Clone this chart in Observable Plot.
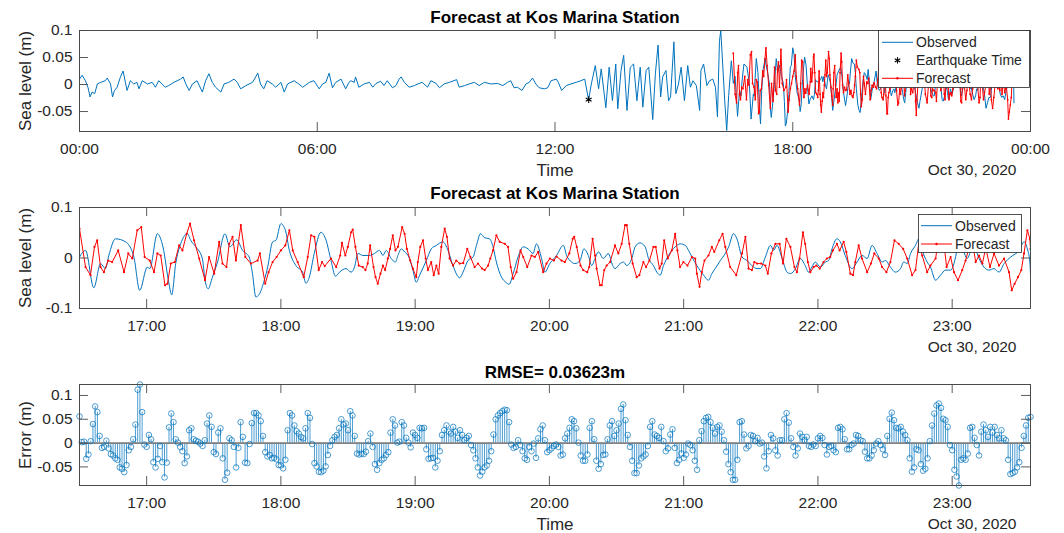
<!DOCTYPE html>
<html><head><meta charset="utf-8">
<script src="https://cdn.jsdelivr.net/npm/d3@7"></script>
<script src="https://cdn.jsdelivr.net/npm/@observablehq/plot@0.6"></script>
<style>
body{margin:0;background:#fff;}
#chart{position:relative;width:1064px;height:533px;overflow:hidden;background:#fff;font-family:"Liberation Sans",Arial,Helvetica,sans-serif;}
#chart svg{position:absolute;left:0;}
</style></head><body><div id="chart"></div>
<script>
// ---------------- DATA ----------------
const titleTop = "Forecast at Kos Marina Station";
const titleMid = "Forecast at Kos Marina Station";
const rmseValue = 0.03623;
const dateLabel = "Oct 30, 2020";
const legendTop = ["Observed", "Earthquake Time", "Forecast"];
const legendMid = ["Observed", "Forecast"];
const overviewTickHours = [0, 6, 12, 18, 24];
const detailTickHours = [17, 18, 19, 20, 21, 22, 23];
const seaTicksTop = [-0.05, 0, 0.05, 0.1];
const seaTicksMid = [-0.1, 0, 0.1];
const errTicks = [-0.05, 0, 0.05, 0.1];
const forecastStartMin = 990;   // 16:30, minutes after midnight Oct 30
const quakeMin = 771;           // 12:51
const quakeMm = -28;

// observed sea level before 16:30 (minutes after 00:00, mm)
const earlyMin = [0,4,9,13,16,19,23,27,32,39,42,47,50,53,57,62,66,70,72,77,82,87,90,95,103,110,115,120,125,130,135,143,153,157,161,166,171,178,186,191,196,201,206,214,219,226,234,239,244,252,262,270,274,279,284,292,297,305,310,315,325,332,338,348,355,363,368,373,378,383,388,396,403,408,
411,416,418,423,431,439,444,449,456,461,466,474,479,484,487,492,499,507,514,519,527,532,540,545,552,560,571,575,583,590,598,605,613,623,633,641,648,653,658,663,670,676,681,686,691,696,704,709,714,722,725,730,737,744,752,759,765,770,771,775,781,786,790,797,802,807,812,815,820,824,829,834,839,844,849,853,858,862,868,872,876,880,883,888,892,895,900,903,907,911,916,921,925,929,934,939,
941,945,950,954,959,963,966,969,971,973,977,980,983,987];
const earlyMm = [10,17,7,-6,-23,-14,-17,1,4,7,12,1,-23,-11,-5,14,25,1,-11,7,1,4,-8,7,1,4,-5,7,1,-5,-2,4,10,14,1,-11,1,7,-14,7,20,4,-5,-14,1,4,10,4,-8,-2,4,21,1,-8,7,1,-5,4,-14,1,7,1,-5,4,7,-8,1,4,21,-6,4,10,-8,4,
7,4,14,-5,1,4,-5,2,6,-2,7,-6,-2,10,14,4,-5,-2,2,4,-5,7,2,-6,1,4,9,-5,-2,1,4,-2,4,1,2,-2,4,7,-6,-5,-11,1,4,12,1,-6,-8,-6,7,10,4,-11,-2,1,4,7,10,-23,-28,1,35,-8,29,-43,32,-30,38,-45,26,54,-48,32,38,-30,32,-42,26,32,-65,20,73,-23,14,26,-30,-23,79,-17,1,32,-30,35,-5,7,-2,-48,
26,38,-2,7,10,-5,-60,80,100,57,-30,-85,-20,44];

// observed sea level after 16:30 (minutes after 16:30, mm)
const obsMin = [0,2.7,6.4,9.4,11.6,13.1,16.1,20.6,24.3,26.9,30.3,31.4,34.8,37.3,40,41.2,43,45.2,48.2,49.7,52,54.9,56.1,57.5,59.4,61.7,65,67.2,70.2,72.9,75.8,77.3,78.8,80.3,82.6,84.1,86.3,87.8,90,92,93.8,96.7,99.7,101.2,102.7,104.9,107.9,
110.2,112.4,114.4,116.2,119.1,121.4,122.9,124.4,126.6,129.6,131.8,134.1,135.6,137.1,139.3,141.2,142.3,143.8,145.3,147.2,149,150.5,152,155,157.2,159.5,162.4,164.7,166.9,169.9,171.4,173.6,175.9,177.4,179.2,181.1,183.3,184.8,186.3,188.6,190.5,192,193.8,196,198.3,200.5,202.7,204.2,206.5,208,210.2,
213.2,216.2,217.7,219.9,221.4,223.7,225.4,227.4,228.9,230.4,231.9,234.1,236.3,238.3,239.3,241.6,243.1,244.6,246.8,248.3,250.5,252.8,254.3,256.5,258,259.5,261,263.2,266.2,268.4,270.7,272.2,273.7,275.9,278.9,281.1,282.6,284.1,286.4,288.6,290.1,292.3,293.8,296.1,298.3,300.5,302.8,304.3,306.5,308.8,310.2,311.7,314,316.2,317.7,320,
322.1,324.3,325.8,327.3,328.8,331.1,333.3,334.8,336.3,338.5,340,342.2,345.2,347.5,349.7,352,354.2,356.4,358.7,360.2,362.4,364.6,366.9,368.4,369.9,371.4,373.6,375.1,376.6,378.8,380.3,382.6,384.8,387,389.3,390.8,392.3,393.3,394.5,396.7,398.2,399.7,402,404.2,406.4,408.7,410.9,413.2,416.2,419.9,422.1,423.6,424.7,425];
const obsMm = [2,15,-59,-11,-21,5,38,32,2,-64,-18,-21,48,22,-51,-73,-11,28,48,35,22,-1,-44,-61,-38,-8,48,22,36,15,2,-31,-77,-72,-44,-18,32,35,68,55,15,-15,-28,-50,-38,9,51,
35,-5,-36,-28,-21,-28,-18,9,5,5,9,15,5,15,-1,-8,5,18,12,2,-24,-48,-34,-5,18,25,32,15,-15,-39,-28,-5,2,25,48,40,38,22,-8,-38,-48,-52,-31,2,22,18,9,28,-1,-28,-11,
5,25,5,-8,-11,-5,18,5,-15,-1,12,-1,9,-15,-21,-11,-8,-15,-1,22,30,22,-1,-15,-28,-34,-15,5,22,28,25,15,2,-15,-34,-44,-31,-21,-5,9,22,48,38,2,-5,-15,-21,-21,2,25,15,25,-1,-28,-31,-21,
-1,-15,-28,-18,-8,-18,-8,-5,18,38,32,5,-21,-8,5,-1,25,9,-8,-5,-18,-28,-21,-8,-11,9,25,38,15,-8,-18,-44,-34,-24,-24,-11,20,45,25,-1,12,22,-1,-18,-24,-21,-28,-11,2,15,32,18,-8,-34];

// forecast (minutes after 16:30, mm)
const fcMin = [0,2.7,4.9,6.7,7.9,9.4,10.9,12.8,14.6,17.3,19.9,21.8,23.6,25.8,27.6,29.1,31.4,33.3,34.8,36.3,38.2,39.3,40.8,42.6,44.5,46,47.9,49.4,51.2,53.5,56.1,57.9,60.2,62.4,63.9,65.7,66.9,68.4,69.9,72.1,74.1,76.6,79.6,80.6,83,84.5,86.3,88.1,90,92,93.8,95.3,97.5,100.2,102,103.5,105,106.9,108.4,
109.6,112.4,114.7,116.5,117.3,118.8,119.9,121.4,122.1,123.3,124.8,126.6,127.8,128.8,129.9,131.4,132.3,133.3,134.5,135.6,136.6,137.8,138.8,140,141.2,142.3,144.2,145.3,146.3,147.8,149,150.5,151.2,152.3,153.5,154.7,155.7,157.2,158.3,159.5,160.5,161.7,163.2,164.2,165.4,166.9,168.4,169.9,171.5,173.3,174.7,176.6,178.1,179.9,181.1,182.6,183.6,184.8,186.3,187.8,190.1,191.5,192.7,193.8,195.3,197.1,198.3,200.1,202,203.5,205,207.2,208.7,210.2,212,
213.2,215.4,216.9,218.9,220.4,221.1,222.2,223.9,225.1,226.9,227.8,229.3,230.4,231.1,232.6,233.4,234.5,235.6,237.1,239.3,240.8,242.3,243.8,244.6,245.7,247.2,249,250.2,252,253.2,254.7,256.5,257.5,259.2,260.2,261.3,262.9,264.7,266.2,267.2,268.4,269.9,271.7,273.7,275.2,275.9,277.1,278.1,279.3,281.1,282.6,283.7,285.9,287.4,288.6,290.8,293.5,296.1,297.6,299,300.5,301.6,302.8,304.6,306.5,307.6,309.2,311,312.9,314.4,315.9,317.7,319.5,
320.6,321.8,323.3,324.3,325.5,326.6,328.1,329.3,330.8,332.5,334,335.5,336.7,338.5,339.7,341.5,342.7,344.5,345.7,346.7,348.2,349.7,352,353.7,355.2,357.2,358.7,360.6,362.4,364.2,366.1,368.1,369.9,372.1,373.6,375.1,376.6,378.8,380.3,382.6,383.8,385,386.3,387.5,389.3,390.8,392.6,394.5,396,397.5,398.8,400.5,402,403.5,405,406.9,408.7,410.9,413.2,415.4,416.6,417.9,419.4,420.9,422.1,423.6,424.7,425];
const fcMm = [58,-18,-34,22,35,-18,-28,-5,-8,15,-28,9,-1,55,61,2,-5,-28,9,5,-54,-51,-11,-8,25,15,48,68,35,-1,-44,2,-31,32,-11,-18,28,42,-5,65,2,-11,-5,9,-51,-28,-8,2,15,25,55,15,-8,-38,2,45,42,-24,-8,
-16,-1,-18,5,30,5,22,51,56,22,-15,-18,-24,-11,25,-18,-38,-51,-31,-15,-24,-1,18,45,15,22,61,48,18,-5,-21,-38,-8,22,35,-1,-24,-8,-34,-15,-31,22,58,42,-1,-15,-5,-11,-10,18,2,-18,-11,-21,-24,-15,-1,15,45,32,28,22,-18,-41,-28,15,2,-18,5,2,12,-28,-11,-1,-5,
3,-5,-8,9,38,42,22,-15,-24,-28,-18,38,5,-21,-54,-54,-24,-15,-8,25,9,28,65,65,28,-11,-38,-34,-8,-18,-5,22,22,-21,-11,35,-1,15,48,15,-18,-8,-15,2,-1,-31,-57,-28,-5,5,22,12,35,48,22,-18,-34,9,42,-21,-24,-8,-11,-11,-15,-31,9,28,28,-11,38,22,-18,
-28,-1,51,28,-8,-28,-18,-15,-21,-8,-1,2,15,28,15,32,12,-31,-34,-8,25,-1,-28,-11,9,-1,-18,-28,-8,35,28,18,-1,-34,-24,30,5,-28,-15,-1,35,48,30,-18,2,-28,-44,-24,-5,20,40,-8,5,-11,20,-18,9,-15,-1,-28,-64,-51,-38,-24,9,55,38,18];

// forecast error, one value per minute from 16:30 (mm)
const errorMm = [56,2,3,-33,-24,4,40,77,65,15,-10,-8,5,-11,-23,-26,-32,-35,-51,-54,-61,-46,-15,-8,8,39,112,123,65,-3,-8,17,8,-40,-51,-33,-6,-40,-72,-41,33,62,44,8,1,-8,-17,-42,-28,27,31,8,5,3,-1,-6,6,41,58,34,-19,-23,22,31,-32,-77,-62,10,6,-8,-51,-10,44,13,-41,-42,-2,42,63,63,58,46,15,-19,-28,-25,-32,-31,-34,-46,-47,-53,-35,27,63,58,37,25,20,13,10,31,63,53,-2,-42,
-49,-60,-61,-58,-49,-25,-6,6,13,17,31,50,39,41,27,67,58,15,-22,-24,-22,-23,-18,4,20,-8,-44,-56,-42,-35,-32,-25,-19,22,50,37,1,3,44,37,11,1,-9,22,17,11,32,31,32,-13,-33,-32,-31,-51,-37,-17,17,27,37,24,20,34,24,11,27,17,6,11,15,-4,-15,-32,-51,-68,-60,-51,-47,-37,-17,18,50,58,63,67,70,69,44,-3,-10,-8,6,-4,-17,-32,-35,-8,-17,-1,-31,10,29,37,6,-19,-15,-11,-6,
-3,-8,-26,-24,10,20,32,50,46,31,1,-26,-37,-37,-24,32,46,8,-37,-54,-44,-25,-24,8,37,46,15,27,41,72,81,48,17,-8,-37,-63,-63,-47,-32,-28,-24,-6,34,46,18,15,11,34,4,-17,-11,18,29,-10,-42,-35,-22,-31,-24,-1,-4,-15,-37,-56,6,25,46,53,55,44,32,20,34,37,24,6,-18,-44,-61,-77,-77,-35,44,46,18,-11,-6,17,15,4,11,-1,1,-28,-53,-17,17,10,-15,-26,6,6,50,63,43,10,-8,
-26,-11,20,13,6,13,-6,-8,-3,-6,10,15,11,-4,-24,-8,-6,-15,-19,32,34,29,8,-13,-13,-4,-1,17,15,6,4,-18,-32,-32,-26,-15,-1,4,-4,-13,-25,15,51,64,48,32,31,34,24,17,6,-32,-60,-51,-13,-15,-44,-58,-54,-32,4,37,62,79,83,74,51,48,34,-4,-15,-56,-70,-89,-35,-32,-35,-22,32,34,11,-4,-26,24,39,27,13,34,22,34,17,10,27,10,6,-35,-65,-63,-60,-51,-40,-10,15,37,53,55];

// ---------------- TABLES ----------------
const T = m => new Date(Date.UTC(2020, 9, 30) + m * 60000);
const obsEarly = earlyMin.map((m, i) => ({t: T(m), v: earlyMm[i] / 1000}));
const obsLate = obsMin.map((m, i) => ({t: T(forecastStartMin + m), v: obsMm[i] / 1000}));
const obsAll = obsEarly.concat(obsLate);
const fc = fcMin.map((m, i) => ({t: T(forecastStartMin + m), v: fcMm[i] / 1000}));
const err = errorMm.map((e, i) => ({t: T(forecastStartMin + i), v: e / 1000}));
const quake = [{t: T(quakeMin), v: quakeMm / 1000}];
const lastMin = errorMm.length - 1;

// ---------------- STYLE ----------------
const FONT = '"Liberation Sans", Arial, Helvetica, sans-serif';
const AX = "#262626";
const FRAME = "#4a4a4a";
const BLUE = "#0072BD";
const RED = "#FF0000";
const W = 1064, ML = 79, MR = 34, FW = W - ML - MR;
const TICK = 15.5, LAB = 17;
const hm = d3.utcFormat("%H:%M");

function decor(xTicks, yTicks, FH, {title, ylabel, xlabel}) {
  const m = [
    Plot.frame({stroke: FRAME, strokeWidth: 1}),
    Plot.tickX(xTicks, {x: d => d, insetTop: FH - 9, stroke: FRAME, strokeWidth: 0.9}),
    Plot.tickX(xTicks, {x: d => d, insetBottom: FH - 9, stroke: FRAME, strokeWidth: 0.9}),
    Plot.tickY(yTicks, {y: d => d, insetRight: FW - 9, stroke: FRAME, strokeWidth: 0.9}),
    Plot.tickY(yTicks, {y: d => d, insetLeft: FW - 9, stroke: FRAME, strokeWidth: 0.9}),
    Plot.axisX(xTicks, {anchor: "bottom", tickSize: 0, tickPadding: 11, tickFormat: hm, fontSize: TICK, label: null}),
    Plot.axisY(yTicks, {anchor: "left", tickSize: 0, tickPadding: 7, tickFormat: d => String(d), fontSize: TICK, label: null}),
    Plot.text([title.text], {text: d => d, frameAnchor: "top", lineAnchor: "middle", textAnchor: "middle", dy: title.dy, fontSize: LAB, fontWeight: "bold", fill: "black"}),
    Plot.text([ylabel], {text: d => d, frameAnchor: "left", lineAnchor: "middle", textAnchor: "middle", dx: -54, rotate: -90, fontSize: LAB}),
    Plot.text([dateLabel], {text: d => d, frameAnchor: "bottom-right", lineAnchor: "middle", textAnchor: "end", dx: -14, dy: 39, fontSize: TICK})
  ];
  if (xlabel) m.push(Plot.text([xlabel], {text: d => d, frameAnchor: "bottom", lineAnchor: "middle", textAnchor: "middle", dy: 39, fontSize: LAB}));
  return m;
}

const style = {fontFamily: FONT, color: AX, background: "transparent", overflow: "visible"};
const chart = document.getElementById("chart");

// Panel 1: full day
const p1 = Plot.plot({
  width: W, height: 178, marginLeft: ML, marginRight: MR, marginTop: 30, marginBottom: 47, style,
  x: {type: "utc", domain: [T(0), T(1440)]},
  y: {domain: [-0.087, 0.1]},
  marks: [
    Plot.line(obsAll, {x: "t", y: "v", stroke: BLUE, strokeWidth: 1, clip: true}),
    Plot.dot(quake, {x: "t", y: "v", symbol: "asterisk", r: 3.2, stroke: "black", strokeWidth: 1.1}),
    Plot.line(fc, {x: "t", y: "v", stroke: RED, strokeWidth: 1, clip: true}),
    Plot.dot(fc, {x: "t", y: "v", r: 0.9, fill: RED, clip: true}),
    ...decor(overviewTickHours.map(h => T(h * 60)), seaTicksTop, 101,
      {title: {text: titleTop, dy: -13}, ylabel: "Sea level (m)", xlabel: "Time"})
  ]
});
p1.style.top = "0px";
chart.appendChild(p1);

// Panel 2: forecast window
const xDetail = [T(forecastStartMin), T(forecastStartMin + lastMin)];
const detailTicks = detailTickHours.map(h => T(h * 60));
const p2 = Plot.plot({
  width: W, height: 178, marginLeft: ML, marginRight: MR, marginTop: 29, marginBottom: 48, style,
  x: {type: "utc", domain: xDetail},
  y: {domain: [-0.1, 0.1]},
  marks: [
    Plot.line(obsLate, {x: "t", y: "v", stroke: BLUE, strokeWidth: 1, curve: "monotone-x", clip: true}),
    Plot.line(fc, {x: "t", y: "v", stroke: RED, strokeWidth: 1, clip: true}),
    Plot.dot(fc, {x: "t", y: "v", r: 1.1, fill: RED, clip: true}),
    ...decor(detailTicks, seaTicksMid, 101,
      {title: {text: titleMid, dy: -14}, ylabel: "Sea level (m)", xlabel: null})
  ]
});
p2.style.top = "178px";
chart.appendChild(p2);

// Panel 3: error stems
const p3 = Plot.plot({
  width: W, height: 177, marginLeft: ML, marginRight: MR, marginTop: 28, marginBottom: 48, style,
  x: {type: "utc", domain: xDetail},
  y: {domain: [-0.089, 0.123]},
  marks: [
    Plot.ruleX(err, {x: "t", y1: 0, y2: "v", stroke: BLUE, strokeWidth: 0.7}),
    Plot.ruleY([0], {stroke: "#808080", strokeWidth: 1.6}),
    Plot.dot(err, {x: "t", y: "v", r: 2.8, stroke: BLUE, strokeWidth: 0.7, fill: "none"}),
    ...decor(detailTicks, errTicks, 101,
      {title: {text: "RMSE= " + rmseValue + "m", dy: -12}, ylabel: "Error (m)", xlabel: "Time"})
  ]
});
p3.style.top = "356px";
chart.appendChild(p3);

// Legends (SVG overlays with real text)
function legendSvg(left, top, w, h, rows) {
  const s = d3.create("svg").attr("width", w).attr("height", h)
    .style("left", left + "px").style("top", top + "px");
  s.append("rect").attr("x", 0.5).attr("y", 0.5).attr("width", w - 1).attr("height", h - 1)
    .attr("fill", "white").attr("stroke", AX).attr("stroke-width", 0.8);
  rows.forEach(r => {
    if (r.kind === "line" || r.kind === "lineDot") {
      s.append("line").attr("x1", r.x1).attr("x2", r.x2).attr("y1", r.cy).attr("y2", r.cy)
        .attr("stroke", r.color).attr("stroke-width", 1);
      if (r.kind === "lineDot") s.append("circle").attr("cx", (r.x1 + r.x2) / 2).attr("cy", r.cy).attr("r", 1.2).attr("fill", r.color);
    } else if (r.kind === "star") {
      const cx = (r.x1 + r.x2) / 2, k = 3.2;
      const g = s.append("g").attr("stroke", "black").attr("stroke-width", 1.1);
      [0, 60, 120].forEach(a => {
        const dx = k * Math.sin(a * Math.PI / 180), dy = k * Math.cos(a * Math.PI / 180);
        g.append("line").attr("x1", cx - dx).attr("x2", cx + dx).attr("y1", r.cy - dy).attr("y2", r.cy + dy);
      });
    }
    s.append("text").attr("x", r.tx).attr("y", r.cy).attr("dy", "0.35em")
      .attr("font-family", FONT).attr("font-size", 14).attr("fill", AX).text(r.label);
  });
  return s.node();
}
chart.appendChild(legendSvg(878, 30, 152, 58, [
  {kind: "line", color: BLUE, x1: 4, x2: 35, cy: 12.3, tx: 38, label: legendTop[0]},
  {kind: "star", x1: 4, x2: 35, cy: 30.3, tx: 38, label: legendTop[1]},
  {kind: "lineDot", color: RED, x1: 4, x2: 35, cy: 48.3, tx: 38, label: legendTop[2]}
]));
chart.appendChild(legendSvg(918, 214, 104, 39, [
  {kind: "line", color: BLUE, x1: 3, x2: 34, cy: 11.7, tx: 37, label: legendMid[0]},
  {kind: "lineDot", color: RED, x1: 3, x2: 34, cy: 30, tx: 37, label: legendMid[1]}
]));
</script></body></html>
